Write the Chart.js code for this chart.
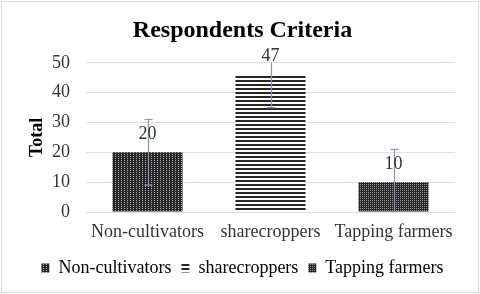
<!DOCTYPE html>
<html>
<head>
<meta charset="utf-8">
<script src="https://cdn.jsdelivr.net/npm/chart.js@4.4.1/dist/chart.umd.min.js"></script>
<style>
  html, body { margin: 0; padding: 0; background: #fff; }
  #wrap { width: 480px; height: 294px; }
</style>
</head>
<body>
<div id="wrap"><canvas id="criteria" width="480" height="294"></canvas></div>
<script>
// data
const categories = ['Non-cultivators', 'sharecroppers', 'Tapping farmers'];
const totals = [20, 46, 10];
const valueLabels = ['20', '47', '10'];
const errorAmount = [11, 11, 11];
const yTicks = [0, 10, 20, 30, 40, 50];

const serif = "'Liberation Serif', 'Times New Roman', serif";
const textColor = '#333333';

// little fill patterns like the Excel ones
function makePattern(w, h, paint) {
  const c = document.createElement('canvas');
  c.width = w; c.height = h;
  const g = c.getContext('2d');
  paint(g);
  return g.createPattern(c, 'repeat');
}

const dotsPattern = makePattern(3, 2, g => {
  g.fillStyle = '#262626'; g.fillRect(0, 0, 3, 2);
  g.fillStyle = '#b0b0b0'; g.fillRect(1, 0, 1, 1);
});
const stripesPattern = makePattern(4, 4, g => {
  g.fillStyle = '#ffffff'; g.fillRect(0, 0, 4, 4);
  g.fillStyle = '#262626'; g.fillRect(0, 0, 4, 2);
});
const checkPattern = makePattern(2, 2, g => {
  g.fillStyle = '#262626'; g.fillRect(0, 0, 2, 2);
  g.fillStyle = '#9a9a9a'; g.fillRect(0, 0, 1, 1);
});
const fills = [dotsPattern, stripesPattern, checkPattern];

// white page and thin frame
const frame = {
  id: 'frame',
  beforeDraw(chart) {
    const ctx = chart.ctx;
    ctx.save();
    ctx.fillStyle = '#fff';
    ctx.fillRect(0, 0, chart.width, chart.height);
    ctx.strokeStyle = '#d9d9d9';
    ctx.lineWidth = 1;
    ctx.strokeRect(1.5, 1.5, chart.width - 3, chart.height - 3);
    ctx.restore();
  }
};

// error bars and value labels
const extras = {
  id: 'extras',
  afterDatasetsDraw(chart) {
    const ctx = chart.ctx;
    const y = chart.scales.y;
    const area = chart.chartArea;
    const meta = chart.getDatasetMeta(0);
    ctx.save();
    ctx.strokeStyle = '#7f97bb';
    ctx.lineWidth = 1.2;
    meta.data.forEach((bar, i) => {
      const x = Math.round(bar.x) + 0.5;
      const hi = totals[i] + errorAmount[i];
      const lo = totals[i] - errorAmount[i];
      const yHi = Math.max(area.top, y.getPixelForValue(hi));
      const yLo = Math.min(area.bottom, y.getPixelForValue(lo));
      ctx.beginPath();
      ctx.moveTo(x, yHi); ctx.lineTo(x, yLo);
      if (hi <= y.max) { ctx.moveTo(x - 4, yHi); ctx.lineTo(x + 4, yHi); }
      if (lo >= y.min) { ctx.moveTo(x - 4, yLo); ctx.lineTo(x + 4, yLo); }
      ctx.stroke();
    });
    ctx.fillStyle = textColor;
    ctx.font = '18px ' + serif;
    ctx.textAlign = 'center';
    ctx.textBaseline = 'middle';
    meta.data.forEach((bar, i) => {
      ctx.fillText(valueLabels[i], bar.x, bar.y - 18);
    });
    ctx.restore();
  }
};

new Chart(document.getElementById('criteria'), {
  type: 'bar',
  data: {
    labels: categories,
    datasets: [{
      label: 'Total',
      data: totals,
      backgroundColor: fills,
      borderWidth: 0,
      barPercentage: 0.57,
      categoryPercentage: 1
    }]
  },
  options: {
    responsive: false,
    animation: false,
    layout: { padding: { top: 10, left: 30, right: 25, bottom: 7 } },
    plugins: {
      title: {
        display: true,
        text: 'Respondents Criteria',
        color: '#000',
        font: { family: serif, size: 24, weight: 'bold' },
        padding: { top: 6, bottom: 18 }
      },
      legend: {
        position: 'bottom',
        labels: {
          color: textColor,
          font: { family: serif, size: 18 },
          boxWidth: 8,
          boxHeight: 9,
          padding: 10,
          generateLabels() {
            return categories.map((c, i) => ({
              text: c,
              fillStyle: fills[i],
              strokeStyle: 'rgba(0,0,0,0)',
              lineWidth: 0,
              index: i
            }));
          }
        }
      },
      tooltip: { enabled: false }
    },
    scales: {
      x: {
        grid: { display: false },
        border: { display: false },
        afterFit(scale) { scale.height = 37; },
        ticks: {
          color: textColor,
          font: { family: serif, size: 18 },
          padding: 1,
          maxRotation: 0,
          minRotation: 0,
          autoSkip: false
        }
      },
      y: {
        min: 0,
        max: 50,
        afterBuildTicks(scale) { scale.ticks = yTicks.map(v => ({ value: v })); },
        afterFit(scale) { scale.width = 56; },
        grid: { color: '#d9e0ea', drawTicks: false },
        border: { display: false },
        ticks: { color: textColor, font: { family: serif, size: 18 }, padding: 16, autoSkip: false },
        title: {
          display: true,
          text: 'Total',
          color: '#000',
          font: { family: serif, size: 18, weight: 'bold' },
          padding: { top: -3, bottom: 0 }
        }
      }
    }
  },
  plugins: [frame, extras]
});
</script>
</body>
</html>
